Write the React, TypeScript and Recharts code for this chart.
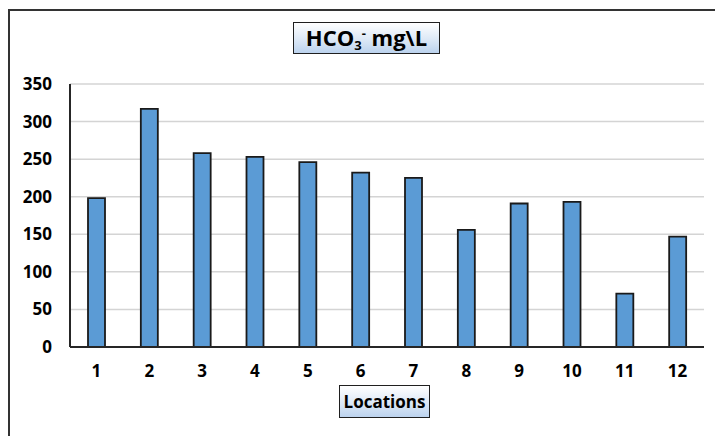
import { Bar, BarChart, CartesianGrid, XAxis, YAxis } from "recharts";

const locations = ["1", "2", "3", "4", "5", "6", "7", "8", "9", "10", "11", "12"];
const hco3 = [198, 317, 258, 253, 246, 232, 225, 156, 191, 193, 71, 147];
const yTicks = [0, 50, 100, 150, 200, 250, 300, 350];

const data = locations.map((loc, i) => ({ loc, value: hco3[i] }));

const FONT = "'Open Sans', 'Liberation Sans', sans-serif";

const boxStyle = {
  position: "absolute" as const,
  border: "1.5px solid #1f1f1f",
  background: "linear-gradient(to bottom, #ffffff 0%, #dce8f6 55%, #bcd3ee 100%)",
  fontFamily: FONT,
  fontWeight: 700,
  color: "#000",
  display: "flex",
  alignItems: "center",
  justifyContent: "center",
  boxSizing: "border-box" as const,
};

const App = () => {
  return (
    <div
      style={{
        position: "absolute",
        left: 0,
        top: 0,
        width: 715,
        height: 436,
        background: "#fff",
        overflow: "hidden",
      }}
    >
      <div
        style={{
          position: "absolute",
          left: 8,
          top: 9,
          width: 800,
          height: 500,
          borderLeft: "2px solid #333",
          borderTop: "2px solid #333",
        }}
      />
      <BarChart
        width={715}
        height={436}
        data={data}
        margin={{ top: 84, right: 11, left: 10, bottom: 59 }}
        barSize={17}
      >
        <CartesianGrid vertical={false} stroke="#d4d4d4" strokeWidth={1.5} />
        <XAxis
          dataKey="loc"
          height={30}
          tickLine={false}
          tickSize={0}
          tickMargin={18}
          axisLine={{ stroke: "#262626", strokeWidth: 2 }}
          tick={{ fill: "#000", fontSize: 17, fontWeight: 700, fontFamily: FONT }}
          interval={0}
        />
        <YAxis
          width={60}
          domain={[0, 350]}
          ticks={yTicks}
          tickLine={false}
          tickSize={0}
          tickMargin={18}
          axisLine={{ stroke: "#262626", strokeWidth: 2 }}
          tick={{ fill: "#000", fontSize: 17, fontWeight: 700, fontFamily: FONT }}
          interval={0}
        />
        <Bar
          dataKey="value"
          fill="#5b9bd5"
          stroke="#1a1a1a"
          strokeWidth={1.8}
          isAnimationActive={false}
        />
      </BarChart>
      <div style={{ ...boxStyle, left: 293, top: 22, width: 147, height: 32, fontSize: 22 }}>
        <span>
          HCO<sub style={{ fontSize: 13, verticalAlign: -4 }}>3</sub>
          <sup style={{ fontSize: 13, verticalAlign: 8 }}>-</sup>&nbsp;mg\L
        </span>
      </div>
      <div style={{ ...boxStyle, left: 339, top: 385, width: 91, height: 33, fontSize: 17 }}>
        Locations
      </div>
    </div>
  );
};

export default App;
